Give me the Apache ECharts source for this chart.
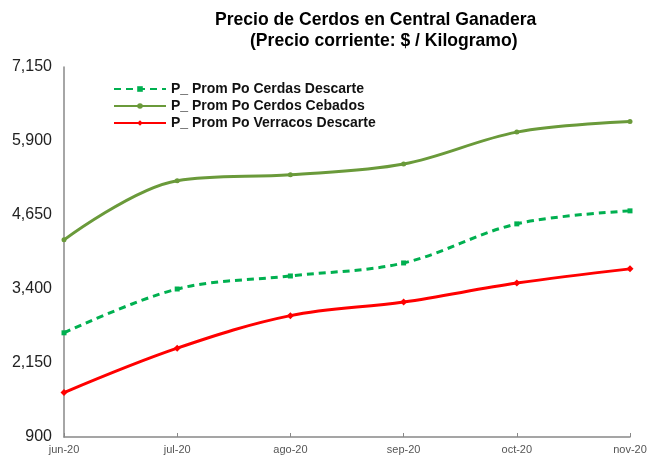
<!DOCTYPE html>
<html>
<head>
<meta charset="utf-8">
<script src="https://cdn.jsdelivr.net/npm/echarts@6/dist/echarts.min.js"></script>
<style>
    html, body { margin: 0; padding: 0; background: #fff; }
    #chart { width: 650px; height: 456px; }
</style>
</head>
<body>
<div id="chart"></div>
<script>
let months = ['jun-20', 'jul-20', 'ago-20', 'sep-20', 'oct-20', 'nov-20'];
let cerdasDescarte = [2660, 3400, 3620, 3840, 4500, 4720];
let cerdosCebados = [4230, 5230, 5330, 5510, 6050, 6230];
let verracosDescarte = [1650, 2400, 2950, 3180, 3500, 3740];
let titleLines = ['Precio de Cerdos en Central Ganadera', '(Precio corriente: $ / Kilogramo)'];

let chart = echarts.init(document.getElementById('chart'));

function lineSeries(name, data, color, dashed, symbol, size) {
    return {
        name: name,
        type: 'line',
        data: data,
        smooth: 0.35,
        symbol: symbol,
        symbolSize: size,
        lineStyle: {
            color: color,
            width: 3,
            type: dashed ? [7, 5] : 'solid'
        },
        itemStyle: { color: color }
    };
}

// narrow bold title: squeeze a normal font horizontally
function titleText(text, x, y) {
    return {
        type: 'text',
        x: x,
        y: y,
        scaleX: 0.925,
        style: {
            text: text,
            font: 'bold 19px "Liberation Sans", Arial, sans-serif',
            fill: '#000',
            verticalAlign: 'top'
        }
    };
}

chart.setOption({
    animation: false,
    graphic: [
        titleText(titleLines[0], 215, 10),
        titleText(titleLines[1], 250, 31)
    ],
    legend: {
        orient: 'vertical',
        left: 108,
        top: 77,
        itemWidth: 52,
        itemHeight: 7,
        itemGap: 3,
        textStyle: { fontFamily: 'Liberation Sans', fontSize: 14, fontWeight: 'bold', color: '#111', lineHeight: 14 },
        data: ['P_ Prom Po Cerdas Descarte', 'P_ Prom Po Cerdos Cebados', 'P_ Prom Po Verracos Descarte']
    },
    grid: { left: 64, right: 20, top: 67, bottom: 19 },
    xAxis: {
        type: 'category',
        data: months,
        boundaryGap: false,
        axisLine: { lineStyle: { color: '#888', width: 1.5 } },
        axisTick: { inside: true, length: 4, lineStyle: { color: '#888' } },
        axisLabel: { fontFamily: 'Liberation Sans', fontSize: 11, color: '#555', margin: 7 }
    },
    yAxis: {
        type: 'value',
        min: 900,
        max: 7150,
        interval: 1250,
        axisLine: { show: true, lineStyle: { color: '#888', width: 1.5 } },
        axisTick: { show: false },
        splitLine: { show: false },
        axisLabel: {
            fontFamily: 'Liberation Sans',
            fontSize: 16,
            color: '#222',
            margin: 12,
            formatter: function (v) { return v.toLocaleString('en-US'); }
        }
    },
    series: [
        lineSeries('P_ Prom Po Cerdas Descarte', cerdasDescarte, '#00B050', true, 'rect', 5),
        lineSeries('P_ Prom Po Cerdos Cebados', cerdosCebados, '#6A9A3A', false, 'circle', 5),
        lineSeries('P_ Prom Po Verracos Descarte', verracosDescarte, '#FF0000', false, 'diamond', 7)
    ]
});
</script>
</body>
</html>
